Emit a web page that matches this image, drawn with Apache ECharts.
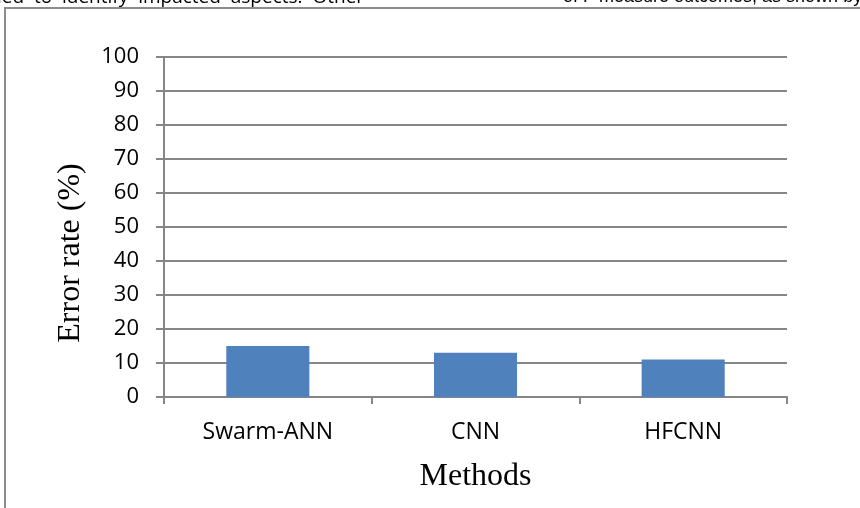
<!DOCTYPE html>
<html>
<head>
<meta charset="utf-8">
<script src="https://cdn.jsdelivr.net/npm/echarts@6/dist/echarts.min.js"></script>
<style>
  html, body { margin: 0; padding: 0; background: #fff; }
  #chart { width: 860px; height: 508px; }
</style>
</head>
<body>
<div id="chart"></div>
<script>
  // data
  const methods = ['Swarm-ANN', 'CNN', 'HFCNN'];
  const errorRate = [15, 13, 11];
  const yTicks = [0, 10, 20, 30, 40, 50, 60, 70, 80, 90, 100];

  const chart = echarts.init(document.getElementById('chart'));

  const option = {
    animation: false,
    backgroundColor: '#fff',
    graphic: [
      // page frame and clipped body text from the paper
      {
        type: 'rect',
        shape: { x: 5, y: 8, width: 900, height: 560 },
        style: { fill: 'none', stroke: '#8c8c8c', lineWidth: 2 },
      },
      {
        type: 'text',
        left: -3,
        top: -12,
        style: {
          text: 'ied  to  identify  impacted  aspects.  Other',
          font: '19px "Open Sans", sans-serif',
          fill: '#000',
        },
      },
      {
        type: 'text',
        left: 563,
        top: -12,
        style: {
          text: 'of F measure outcomes, as shown by the',
          font: '18px "Liberation Sans Narrow", "Liberation Sans", sans-serif',
          fill: '#000',
        },
      },
      {
        type: 'text',
        x: 71,
        y: 253,
        rotation: Math.PI / 2,
        style: {
          text: 'Error rate (%)',
          font: '32px "Liberation Serif", serif',
          fill: '#000',
          align: 'center',
          verticalAlign: 'middle',
        },
      },
    ],
    grid: {
      left: 164,
      right: 73,
      top: 57,
      bottom: 111,
    },
    xAxis: {
      type: 'category',
      data: methods,
      name: 'Methods',
      nameLocation: 'middle',
      nameGap: 64,
      nameTextStyle: {
        fontFamily: 'Liberation Serif',
        fontSize: 32,
        color: '#000',
      },
      axisLine: { lineStyle: { color: '#868686', width: 2 } },
      axisTick: { show: true, length: 7, lineStyle: { color: '#868686', width: 2 } },
      axisLabel: {
        margin: 24,
        fontFamily: 'Open Sans',
        fontSize: 23,
        color: '#000',
      },
    },
    yAxis: {
      type: 'value',
      min: yTicks[0],
      max: yTicks[yTicks.length - 1],
      interval: 10,
      axisLine: { show: true, lineStyle: { color: '#868686', width: 2 } },
      axisTick: { show: true, length: 8, lineStyle: { color: '#868686', width: 2 } },
      axisLabel: {
        margin: 25,
        fontFamily: 'Open Sans',
        fontSize: 22,
        color: '#000',
      },
      splitLine: { lineStyle: { color: '#868686', width: 2 } },
    },
    series: [
      {
        type: 'bar',
        data: errorRate,
        barWidth: '40%',
        itemStyle: { color: '#4f81bd' },
      },
    ],
  };

  chart.setOption(option);
</script>
</body>
</html>
